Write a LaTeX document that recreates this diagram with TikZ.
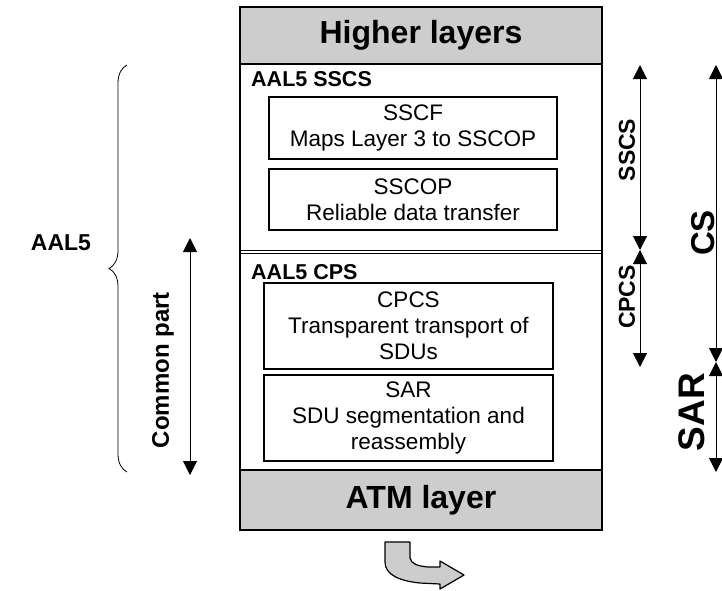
\documentclass[tikz,border=0pt]{standalone}
\usepackage{fontspec}
\setmainfont{Liberation Sans}
\usetikzlibrary{arrows.meta,decorations.pathreplacing}
\definecolor{bandgray}{RGB}{205,205,205}
\begin{document}
\begin{tikzpicture}[x=1pt,y=-1pt,
  band/.style={draw=black, fill=bandgray, line width=1.2pt, inner sep=0pt, minimum width=362pt},
  inbox/.style={draw=black, line width=1.1pt, inner sep=0pt, align=center, font=\fontsize{22.5}{26}\selectfont},
  biglbl/.style={font=\bfseries\fontsize{32}{36}\selectfont},
  seclbl/.style={font=\bfseries\fontsize{21.5}{24}\selectfont, anchor=west, inner sep=0pt},
  sidelbl/.style={rotate=90, font=\bfseries\fontsize{23}{26}\selectfont, inner sep=0pt},
  dimarrow/.style={{Triangle[length=14pt,width=14pt]}-{Triangle[length=14pt,width=14pt]}, line width=1pt}
]
\useasboundingbox (0,0) rectangle (722,590);

% main frame
\node[draw=black, line width=1.5pt, minimum width=362pt, minimum height=523pt, inner sep=0pt] (main) at (421,268.5) {};
% bands
\node[band, minimum height=57pt, biglbl] (hl) at (421,35.5) {Higher layers};
\node[band, minimum height=60pt, biglbl] (atm) at (421,500) {ATM layer};

% double separator
\draw[line width=1pt] (240,250) -- (602,250);
\draw[line width=1pt] (240,253.5) -- (602,253.5);

% section labels
\node[seclbl] (sscslbl) at (251,79) {AAL5 SSCS};
\node[seclbl] (cpslbl) at (251,272) {AAL5 CPS};

% inner boxes
\node[inbox, minimum width=288pt, minimum height=62pt] (sscf) at (413,128) {SSCF\\Maps Layer 3 to SSCOP};
\node[inbox, minimum width=288pt, minimum height=61pt] (sscop) at (413,199.5) {SSCOP\\Reliable data transfer};
\node[inbox, minimum width=289pt, minimum height=86pt] (cpcs) at (408.5,326) {CPCS\\Transparent transport of\\SDUs};
\node[inbox, minimum width=289pt, minimum height=86pt] (sar) at (408.5,418) {SAR\\SDU segmentation and\\reassembly};

% bent arrow below
\draw[fill=bandgray, line width=1.2pt, line join=round]
  (385,542) -- (410,542) -- (410,558) .. controls (411,564) and (418,566) .. (428,567)
  -- (440,567) -- (440,561) -- (464,575) -- (440,589) -- (440,584)
  -- (420,583) .. controls (400,581) and (385,575) .. (385,562) -- cycle;

% right dimension arrows
\coordinate (s1) at (640,65);
\coordinate (s2) at (640,250);
\coordinate (c2) at (640,367);
\coordinate (cs1) at (716,65);
\coordinate (cs2) at (716,362);
\coordinate (sa2) at (716,472);
\draw[dimarrow] (s1) -- (s2);
\draw[dimarrow] (s2) -- (c2);
\draw[dimarrow] (cs1) -- (cs2);
\draw[dimarrow] (cs2) -- (sa2);
\node[sidelbl] (sscsl) at (627,150) {SSCS};
\node[sidelbl] (cpcsl) at (627,297) {CPCS};
\node[sidelbl, font=\bfseries\fontsize{33}{36}\selectfont] (csl) at (703,233) {CS};
\node[sidelbl, font=\bfseries\fontsize{37}{40}\selectfont] (sarl) at (692,412) {SAR};

% left side
\draw[decorate, decoration={brace, amplitude=18pt}, line width=0.8pt] (127,472) -- (127,65);
\node[font=\bfseries\fontsize{23}{26}\selectfont] (aal5) at (61,243) {AAL5};
\coordinate (cp1) at (190,238);
\coordinate (cp2) at (190,475);
\draw[dimarrow] (cp1) -- (cp2);
\node[sidelbl, font=\bfseries\fontsize{24}{27}\selectfont] (cpl) at (163,370) {Common part};
\end{tikzpicture}
\end{document}
